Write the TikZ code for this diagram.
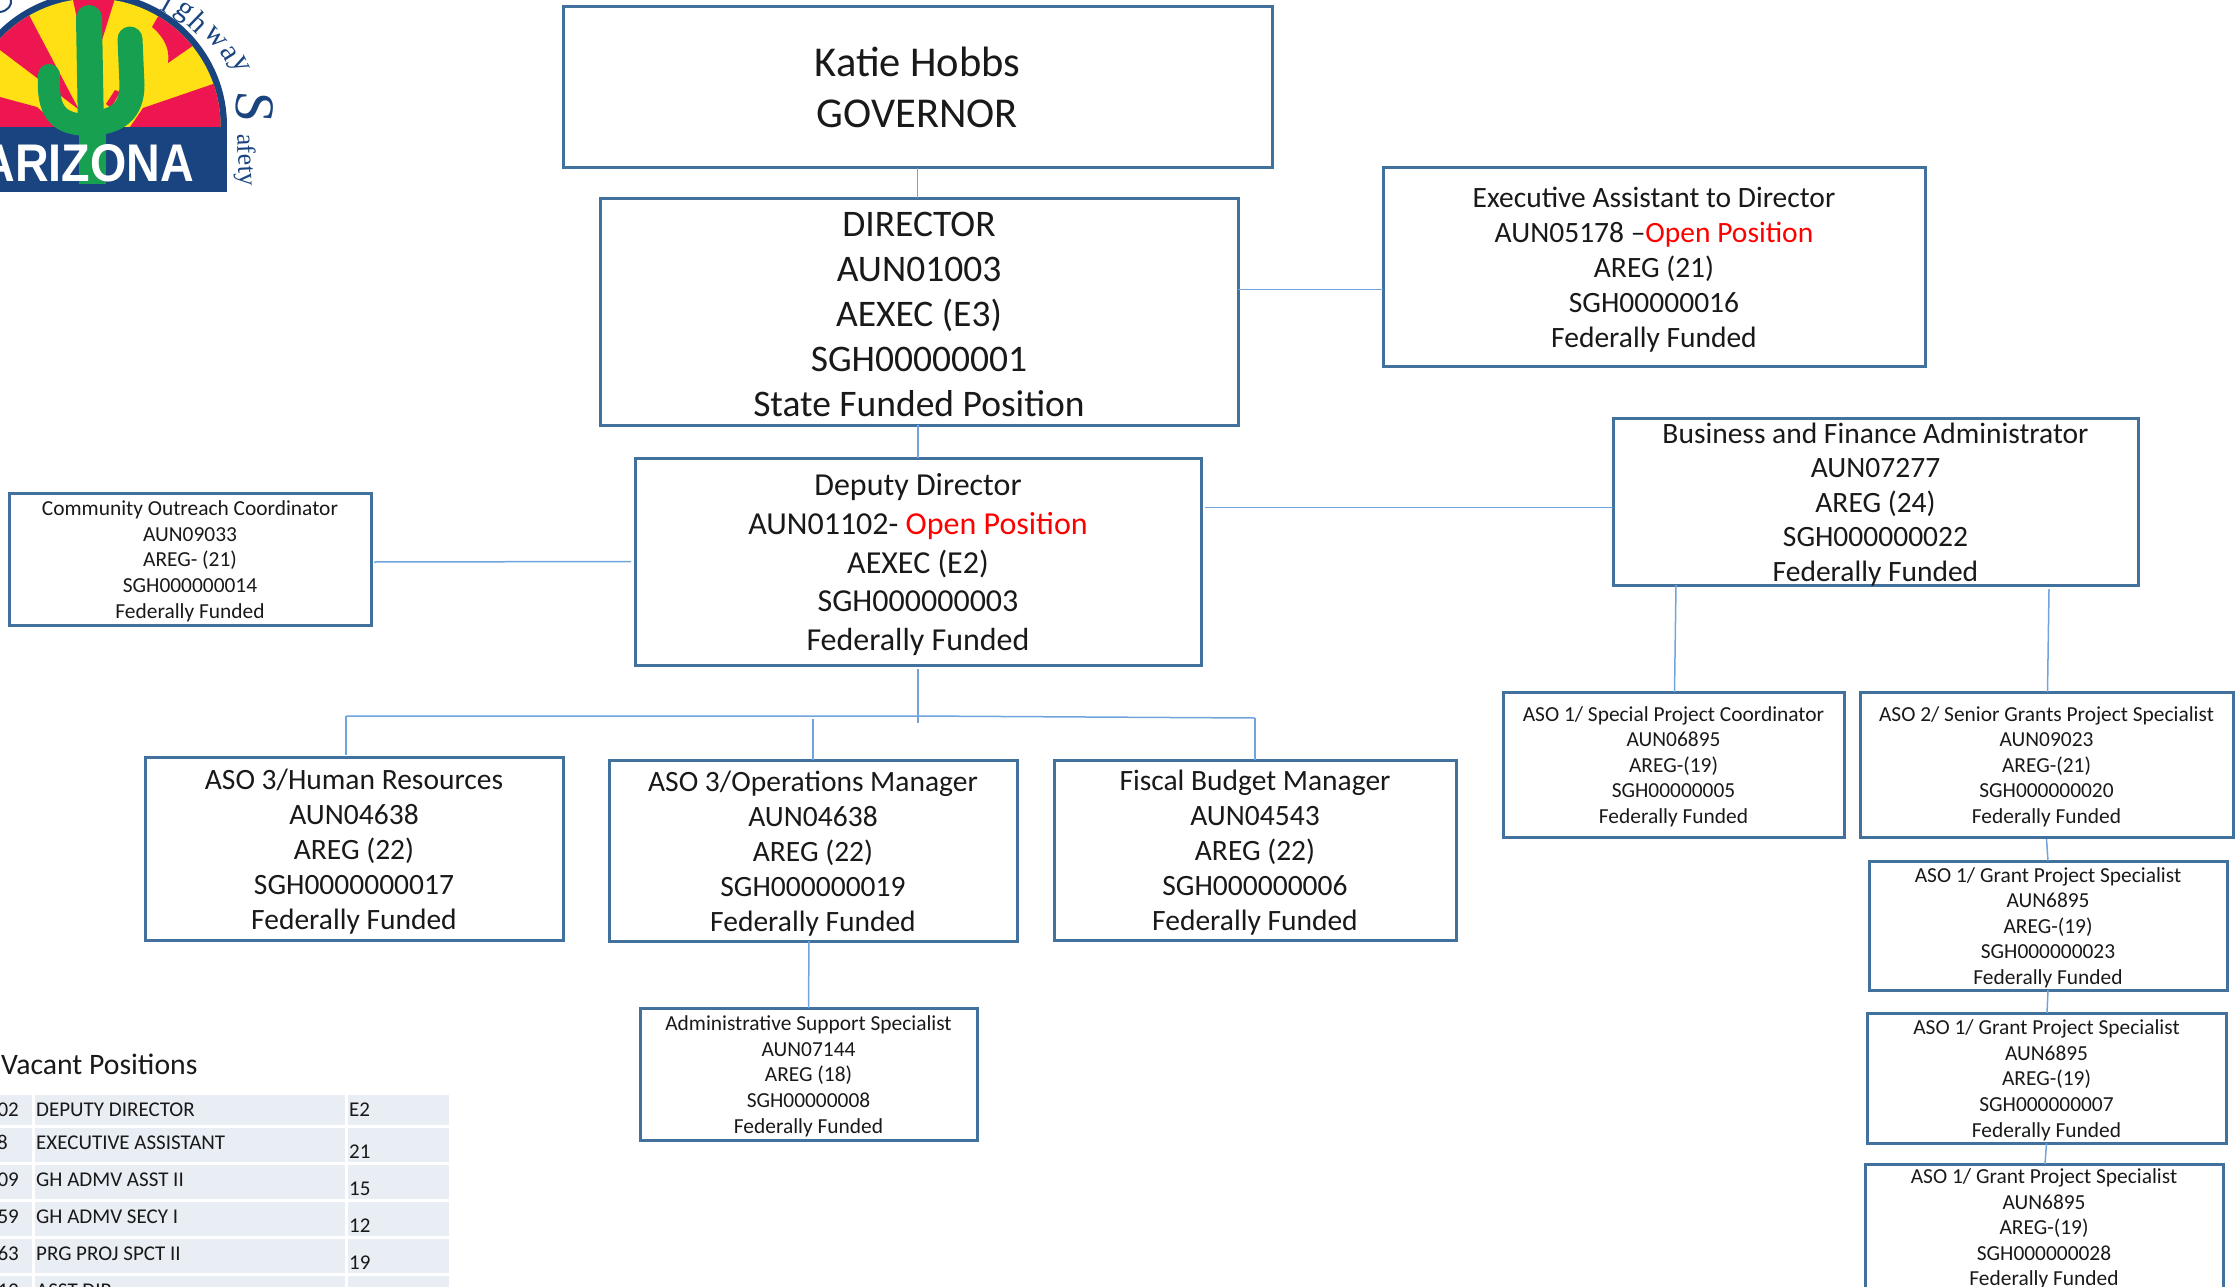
\documentclass[tikz,border=0pt]{standalone}
\usepackage{fontspec}
\setmainfont{Carlito}
\newfontfamily\logosans{Liberation Sans}
\newfontfamily\logoserif{Liberation Serif}
\usepackage{xcolor}
\usetikzlibrary{positioning, calc}
\definecolor{boxblue}{HTML}{41719C}
\definecolor{linkblue}{HTML}{6FA5DC}
\definecolor{cellblue}{HTML}{E9EDF4}
\definecolor{logoblue}{HTML}{1A4480}
\definecolor{logored}{HTML}{ED1651}
\definecolor{logoyellow}{HTML}{FFE014}
\definecolor{logogreen}{HTML}{17A04F}
\newcommand{\openpos}[1]{\textcolor{red}{#1}}
\newcommand{\toprow}[1][.89em]{\rule{0pt}{#1}}
\tikzset{
    orgbox/.style={draw=boxblue, line width=3pt, rectangle, align=center, inner sep=0pt, outer sep=0pt, text=black!90},
    hugetext/.style={font=\fontsize{42.5}{51}\selectfont},
    largetext/.style={font=\fontsize{37.5}{45}\selectfont},
    midtext/.style={font=\fontsize{32}{38.7}\selectfont},
    normtext/.style={font=\fontsize{29.5}{35}\selectfont},
    smalltext/.style={font=\fontsize{21.4}{25.6}\selectfont},
    link/.style={draw=linkblue, line width=1.5pt},
    celltext/.style={anchor=base west, inner sep=0pt, font=\fontsize{21}{25}\selectfont, text=black!90}
}

\begin{document}
\begin{tikzpicture}[x=1pt, y=-1pt]
    \useasboundingbox (0,0) rectangle (2236,1287);
    \clip (0,0) rectangle (2236,1287);

    % Logo
    \begin{scope}
        \clip (-50,-20) rectangle (227,127);
        \fill[logoblue] (93,126) circle[radius=134];
    \end{scope}
    \fill[logoblue] (0,127) rectangle (227,192);
    \begin{scope}
        \clip (93,126) circle[radius=127.5];
        \fill[logoyellow] (-40,-10) rectangle (227,127);
        \fill[logored] (29,15) -- (88,127) -- (102,127) -- (0,50) -- (0,20) -- cycle;
        \fill[logored] (72,-5) -- (90,80) -- (103,37) -- (116,-5) -- cycle;
        \fill[logored] (152,27) -- (160,13) -- (194,45) -- (168,63) .. controls (170,50) and (165,38) .. (152,27);
        \fill[logored] (130,127) -- (143,108) -- (216,83) -- (225,127) -- cycle;
        \fill[logored] (0,97) -- (37,107) -- (60,127) -- (0,127) -- cycle;
    \end{scope}
    \fill[logoyellow] (61,100) -- (75,113) -- (68,116) -- cycle;
    \fill[logored] (115,90) -- (120,92) -- (111,108) -- (106,104) -- cycle;
    \draw[logogreen, line width=26pt, line cap=round] (89,18) -- (91,130);
    \fill[logogreen] (79,125) rectangle (106,184);
    \draw[logogreen, line width=22pt, line cap=round] (49,75) .. controls (47,112) and (58,125) .. (90,125);
    \draw[logogreen, line width=25pt, line cap=round] (130,39) -- (132,85) .. controls (132,110) and (118,122) .. (92,123);
    \node[anchor=base east, inner sep=0pt, xscale=.88, text=white, font=\logosans\bfseries\fontsize{53}{53}\selectfont] (arizona) at (194,182) {ARIZONA};
    \draw[logoblue, line width=2pt] (0,12) .. controls (8,11) and (12,5) .. (11,0);
    \node[rotate=-94, text=logoblue, inner sep=0pt, font=\logoserif\fontsize{56}{56}\selectfont] (safetyS) at (255,107) {S};
    \node[rotate=-87, text=logoblue, inner sep=0pt, font=\logoserif\fontsize{26}{26}\selectfont] (safety) at (245,160) {afety};
    \foreach \ltr/\px/\py/\ang in {i/168/3/-30, g/183/13/-38, h/199/22/-44, w/216/37/-50, a/229/53/-58, y/238/66/-64} {
        \node[rotate=\ang, text=logoblue, inner sep=0pt, font=\logoserif\fontsize{30}{30}\selectfont] (high\ltr) at (\px,\py) {\ltr};
    }

    % Governor and Director
    \node[orgbox, hugetext, minimum width=709pt, minimum height=161pt] (governor) at (917.5,87.5) {
        Katie Hobbs\\
        GOVERNOR
    };
    \node[orgbox, largetext, minimum width=638pt, minimum height=227pt, below=30pt of governor, xshift=1.5pt] (director) {
        \toprow[.8em]DIRECTOR\\
        AUN01003\\
        AEXEC (E3)\\
        SGH00000001\\
        State Funded Position
    };
    \node[orgbox, normtext, minimum width=542pt, minimum height=198pt] (execasst) at (1654,267) {
        \toprow Executive Assistant to Director\\
        AUN05178 –\openpos{Open Position}\\
        AREG (21)\\
        SGH00000016\\
        Federally Funded
    };

    % Deputy level
    \node[orgbox, midtext, minimum width=566pt, minimum height=207pt, below=33pt of director, xshift=-1pt] (deputy) {
        \toprow Deputy Director\\
        AUN01102- \openpos{Open Position}\\
        AEXEC (E2)\\
        SGH000000003\\
        Federally Funded
    };
    \node[orgbox, smalltext, minimum width=362pt, minimum height=132pt] (community) at (190,559) {
        \toprow Community Outreach Coordinator\\
        AUN09033\\
        AREG- (21)\\
        SGH000000014\\
        Federally Funded
    };
    \node[orgbox, normtext, font=\fontsize{29.5}{34.4}\selectfont, inner ysep=-2pt, minimum width=525pt, minimum height=167pt] (business) at (1875.5,501.5) {
        \toprow Business and Finance Administrator\\
        AUN07277\\
        AREG (24)\\
        SGH000000022\\
        Federally Funded
    };

    % Managers
    \node[orgbox, normtext, minimum width=418pt, minimum height=183pt] (humanres) at (354,848.5) {
        \toprow ASO 3/Human Resources\\
        AUN04638\\
        AREG (22)\\
        SGH0000000017\\
        Federally Funded
    };
    \node[orgbox, normtext, minimum width=408pt, minimum height=181pt] (operations) at (813,850.5) {
        \toprow ASO 3/Operations Manager\\
        AUN04638\\
        AREG (22)\\
        SGH000000019\\
        Federally Funded
    };
    \node[orgbox, normtext, minimum width=402pt, minimum height=180pt] (fiscal) at (1255,850) {
        \toprow Fiscal Budget Manager\\
        AUN04543\\
        AREG (22)\\
        SGH000000006\\
        Federally Funded
    };
    \node[orgbox, smalltext, minimum width=337pt, minimum height=132pt] (admin) at (808.5,1074) {
        \toprow Administrative Support Specialist\\
        AUN07144\\
        AREG (18)\\
        SGH00000008\\
        Federally Funded
    };

    % Project staff
    \node[orgbox, smalltext, minimum width=341pt, minimum height=145pt] (special) at (1673.5,764.5) {
        \toprow ASO 1/ Special Project Coordinator\\
        AUN06895\\
        AREG-(19)\\
        SGH00000005\\
        Federally Funded
    };
    \node[orgbox, smalltext, minimum width=373pt, minimum height=145pt] (senior) at (2046.5,764.5) {
        \toprow ASO 2/ Senior Grants Project Specialist\\
        AUN09023\\
        AREG-(21)\\
        SGH000000020\\
        Federally Funded
    };
    \node[orgbox, smalltext, minimum width=358pt, minimum height=129pt] (grantA) at (2048,925.5) {
        \toprow ASO 1/ Grant Project Specialist\\
        AUN6895\\
        AREG-(19)\\
        SGH000000023\\
        Federally Funded
    };
    \node[orgbox, smalltext, minimum width=359pt, minimum height=130pt] (grantB) at (2046.5,1078) {
        \toprow ASO 1/ Grant Project Specialist\\
        AUN6895\\
        AREG-(19)\\
        SGH000000007\\
        Federally Funded
    };
    \node[orgbox, smalltext, minimum width=358pt, minimum height=130pt] (grantC) at (2044,1229) {
        ASO 1/ Grant Project Specialist\\
        AUN6895\\
        AREG-(19)\\
        SGH000000028\\
        Federally Funded
    };

    % Relationships
    \draw[link] (governor.south) -- (governor.south |- director.north);
    \draw[link] ($(director.east)+(0,-22)$) -- (execasst.west |- {$(director.east)+(0,-22)$});
    \draw[link] (deputy.north) -- (deputy.north |- director.south);
    \draw[link] ($(deputy.west)+(-4,0)$) -- ($(community.east)+(3,3)$);
    \draw[link] ($(deputy.east)+(4,-54)$) -- (business.west |- {$(deputy.east)+(4,-54)$});
    \coordinate (treeL) at (346,716);
    \coordinate (treeM) at (918,716);
    \coordinate (treeR) at (1255,718);
    \draw[link] ($(deputy.south)+(0,4)$) -- (918,723);
    \draw[link] (treeL) -- (treeM) -- (treeR);
    \draw[link] (treeL) -- (346,755);
    \draw[link] (813,719) -- (operations.north);
    \draw[link] (treeR) -- (fiscal.north);
    \draw[link] ($(operations.south)+(-4,0)$) -- (admin.north);
    \draw[link] ($(business.south west)+(63,0)$) -- ($(special.north)+(1,0)$);
    \draw[link] ($(business.south west)+(436,4)$) -- ($(senior.north)+(1,0)$);
    \draw[link] ($(senior.south)+(0,2)$) -- (grantA.north);
    \draw[link] (grantA.south) -- ($(grantB.north)+(.5,0)$);
    \draw[link] (grantB.south) -- ($(grantC.north)+(1,0)$);

    % Vacant positions table
    \node[anchor=base west, inner sep=0pt, font=\fontsize{29.7}{35}\selectfont, text=black!90] (vacant) at (1,1074) {Vacant Positions};
    \foreach \rowtop/\rowbot in {1095/1125, 1128/1162, 1165/1199, 1202/1236, 1239/1273, 1276/1310} {
        \fill[cellblue] (0,\rowtop) rectangle (32,\rowbot);
        \fill[cellblue] (35,\rowtop) rectangle (345,\rowbot);
        \fill[cellblue] (348,\rowtop) rectangle (449,\rowbot);
    }
    \foreach \i/\num/\numx/\title/\grade/\ya/\yb in {1/02/19/DEPUTY DIRECTOR/E2/1116/1116, 2/8/8/EXECUTIVE ASSISTANT/21/1149/1158, 3/09/19/GH ADMV ASST II/15/1186/1195, 4/59/19/GH ADMV SECY I/12/1223/1232, 5/63/19/PRG PROJ SPCT II/19/1260/1269, 6/13/19/ASST DIR//1297/1306} {
        \node[celltext, anchor=base east] (num\i) at (\numx,\ya) {\num};
        \node[celltext] (title\i) at (36,\ya) {\title};
        \node[celltext] (grade\i) at (349,\yb) {\grade};
    }
\end{tikzpicture}
\end{document}
